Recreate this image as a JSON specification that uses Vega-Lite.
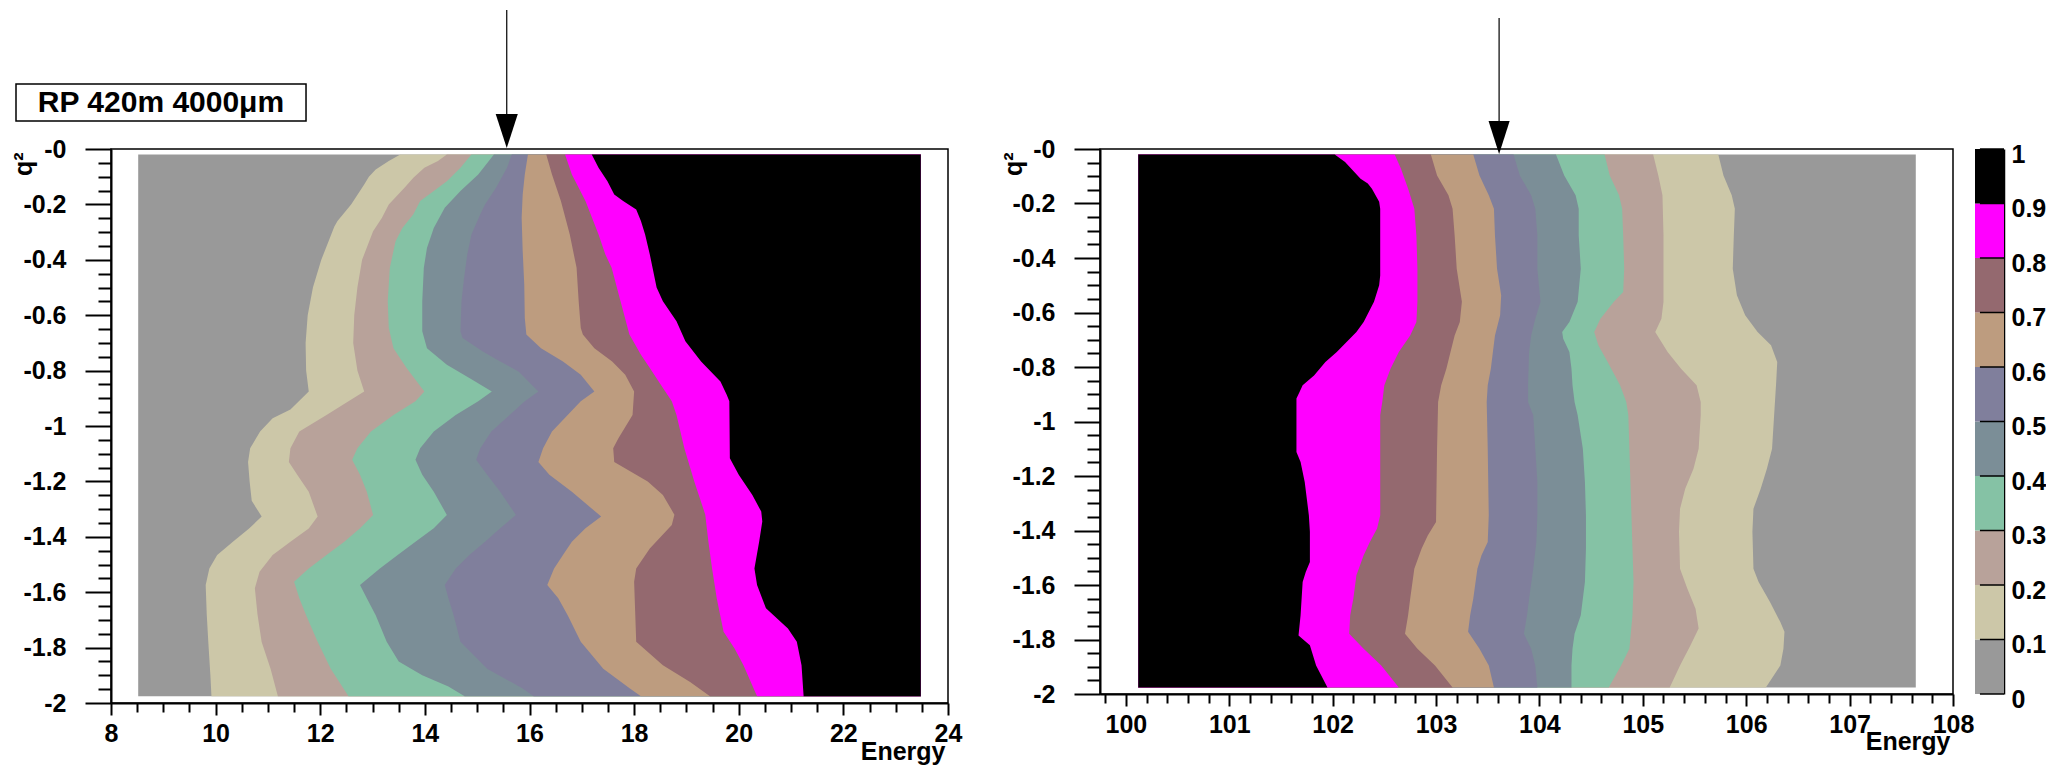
{
"$schema": "https://vega.github.io/schema/vega-lite/v6.json",
"background": "white",
"padding": {"left": 10, "top": 8, "right": 0, "bottom": 0},
"autosize": {"type": "pad"},
"config": {
 "font": "Liberation Sans",
 "view": {"stroke": "black", "strokeWidth": 1.5},
 "axis": {"labelFont": "Liberation Sans", "labelFontWeight": "bold", "labelFontSize": 25, "labelColor": "black", "titleFont": "Liberation Sans", "titleFontWeight": "bold", "titleFontSize": 25, "titleColor": "black", "domainColor": "black", "tickColor": "black", "grid": false, "labelFlush": false, "labelOverlap": false},
 "area": {"opacity": 1},
 "rect": {"opacity": 1}
},
"datasets": {
"L": [
{"c":0,"q":-0.02,"e":8.52},{"c":0,"q":-1.976,"e":8.52},
{"c":0.1,"q":-0.02,"e":13.53},{"c":0.1,"q":-0.043,"e":13.31},{"c":0.1,"q":-0.074,"e":13.06},{"c":0.1,"q":-0.1,"e":12.93},{"c":0.1,"q":-0.128,"e":12.84},{"c":0.1,"q":-0.2,"e":12.59},{"c":0.1,"q":-0.26,"e":12.33},{"c":0.1,"q":-0.28,"e":12.27},{"c":0.1,"q":-0.4,"e":12.02},{"c":0.1,"q":-0.5,"e":11.86},{"c":0.1,"q":-0.6,"e":11.76},{"c":0.1,"q":-0.7,"e":11.72},{"c":0.1,"q":-0.8,"e":11.73},{"c":0.1,"q":-0.875,"e":11.78},{"c":0.1,"q":-0.94,"e":11.43},{"c":0.1,"q":-0.972,"e":11.09},{"c":0.1,"q":-1.02,"e":10.85},{"c":0.1,"q":-1.08,"e":10.66},{"c":0.1,"q":-1.13,"e":10.62},{"c":0.1,"q":-1.2,"e":10.65},{"c":0.1,"q":-1.27,"e":10.69},{"c":0.1,"q":-1.327,"e":10.88},{"c":0.1,"q":-1.37,"e":10.64},{"c":0.1,"q":-1.418,"e":10.33},{"c":0.1,"q":-1.466,"e":10.03},{"c":0.1,"q":-1.514,"e":9.88},{"c":0.1,"q":-1.574,"e":9.81},{"c":0.1,"q":-1.68,"e":9.83},{"c":0.1,"q":-1.78,"e":9.86},{"c":0.1,"q":-1.9,"e":9.9},{"c":0.1,"q":-1.976,"e":9.92},
{"c":0.2,"q":-0.02,"e":14.42},{"c":0.2,"q":-0.043,"e":14.25},{"c":0.2,"q":-0.068,"e":13.99},{"c":0.2,"q":-0.104,"e":13.78},{"c":0.2,"q":-0.14,"e":13.61},{"c":0.2,"q":-0.2,"e":13.31},{"c":0.2,"q":-0.248,"e":13.18},{"c":0.2,"q":-0.297,"e":13.01},{"c":0.2,"q":-0.4,"e":12.8},{"c":0.2,"q":-0.5,"e":12.71},{"c":0.2,"q":-0.6,"e":12.65},{"c":0.2,"q":-0.7,"e":12.63},{"c":0.2,"q":-0.8,"e":12.71},{"c":0.2,"q":-0.875,"e":12.84},{"c":0.2,"q":-0.911,"e":12.54},{"c":0.2,"q":-0.96,"e":12.12},{"c":0.2,"q":-1.02,"e":11.6},{"c":0.2,"q":-1.08,"e":11.43},{"c":0.2,"q":-1.13,"e":11.4},{"c":0.2,"q":-1.176,"e":11.56},{"c":0.2,"q":-1.237,"e":11.78},{"c":0.2,"q":-1.327,"e":11.95},{"c":0.2,"q":-1.37,"e":11.78},{"c":0.2,"q":-1.418,"e":11.43},{"c":0.2,"q":-1.466,"e":11.09},{"c":0.2,"q":-1.526,"e":10.84},{"c":0.2,"q":-1.586,"e":10.75},{"c":0.2,"q":-1.68,"e":10.8},{"c":0.2,"q":-1.78,"e":10.88},{"c":0.2,"q":-1.876,"e":11.05},{"c":0.2,"q":-1.976,"e":11.19},
{"c":0.3,"q":-0.02,"e":14.89},{"c":0.3,"q":-0.068,"e":14.68},{"c":0.3,"q":-0.116,"e":14.42},{"c":0.3,"q":-0.152,"e":14.17},{"c":0.3,"q":-0.188,"e":13.91},{"c":0.3,"q":-0.236,"e":13.78},{"c":0.3,"q":-0.285,"e":13.57},{"c":0.3,"q":-0.333,"e":13.44},{"c":0.3,"q":-0.429,"e":13.33},{"c":0.3,"q":-0.55,"e":13.29},{"c":0.3,"q":-0.646,"e":13.31},{"c":0.3,"q":-0.719,"e":13.4},{"c":0.3,"q":-0.791,"e":13.65},{"c":0.3,"q":-0.875,"e":13.99},{"c":0.3,"q":-0.911,"e":13.82},{"c":0.3,"q":-0.96,"e":13.4},{"c":0.3,"q":-1.02,"e":12.97},{"c":0.3,"q":-1.08,"e":12.71},{"c":0.3,"q":-1.122,"e":12.61},{"c":0.3,"q":-1.176,"e":12.76},{"c":0.3,"q":-1.237,"e":12.89},{"c":0.3,"q":-1.321,"e":13.01},{"c":0.3,"q":-1.369,"e":12.76},{"c":0.3,"q":-1.418,"e":12.46},{"c":0.3,"q":-1.466,"e":12.12},{"c":0.3,"q":-1.514,"e":11.78},{"c":0.3,"q":-1.562,"e":11.5},{"c":0.3,"q":-1.622,"e":11.6},{"c":0.3,"q":-1.683,"e":11.73},{"c":0.3,"q":-1.779,"e":11.95},{"c":0.3,"q":-1.876,"e":12.2},{"c":0.3,"q":-1.976,"e":12.54},
{"c":0.4,"q":-0.02,"e":15.32},{"c":0.4,"q":-0.092,"e":15.02},{"c":0.4,"q":-0.152,"e":14.68},{"c":0.4,"q":-0.212,"e":14.38},{"c":0.4,"q":-0.285,"e":14.17},{"c":0.4,"q":-0.357,"e":14.04},{"c":0.4,"q":-0.429,"e":13.98},{"c":0.4,"q":-0.55,"e":13.95},{"c":0.4,"q":-0.658,"e":13.95},{"c":0.4,"q":-0.719,"e":14.04},{"c":0.4,"q":-0.779,"e":14.42},{"c":0.4,"q":-0.827,"e":14.85},{"c":0.4,"q":-0.875,"e":15.28},{"c":0.4,"q":-0.911,"e":15.02},{"c":0.4,"q":-0.96,"e":14.59},{"c":0.4,"q":-1.02,"e":14.17},{"c":0.4,"q":-1.08,"e":13.91},{"c":0.4,"q":-1.122,"e":13.82},{"c":0.4,"q":-1.176,"e":13.95},{"c":0.4,"q":-1.237,"e":14.17},{"c":0.4,"q":-1.321,"e":14.42},{"c":0.4,"q":-1.369,"e":14.17},{"c":0.4,"q":-1.418,"e":13.82},{"c":0.4,"q":-1.466,"e":13.48},{"c":0.4,"q":-1.514,"e":13.14},{"c":0.4,"q":-1.574,"e":12.76},{"c":0.4,"q":-1.622,"e":12.89},{"c":0.4,"q":-1.683,"e":13.06},{"c":0.4,"q":-1.779,"e":13.27},{"c":0.4,"q":-1.85,"e":13.5},{"c":0.4,"q":-1.9,"e":13.95},{"c":0.4,"q":-1.94,"e":14.45},{"c":0.4,"q":-1.976,"e":14.76},
{"c":0.5,"q":-0.02,"e":15.66},{"c":0.5,"q":-0.068,"e":15.57},{"c":0.5,"q":-0.14,"e":15.36},{"c":0.5,"q":-0.2,"e":15.15},{"c":0.5,"q":-0.236,"e":15.06},{"c":0.5,"q":-0.309,"e":14.89},{"c":0.5,"q":-0.381,"e":14.81},{"c":0.5,"q":-0.465,"e":14.75},{"c":0.5,"q":-0.55,"e":14.7},{"c":0.5,"q":-0.658,"e":14.68},{"c":0.5,"q":-0.682,"e":14.72},{"c":0.5,"q":-0.73,"e":15.1},{"c":0.5,"q":-0.767,"e":15.44},{"c":0.5,"q":-0.803,"e":15.79},{"c":0.5,"q":-0.875,"e":16.17},{"c":0.5,"q":-0.911,"e":15.91},{"c":0.5,"q":-0.96,"e":15.62},{"c":0.5,"q":-1.02,"e":15.27},{"c":0.5,"q":-1.08,"e":15.06},{"c":0.5,"q":-1.122,"e":14.98},{"c":0.5,"q":-1.176,"e":15.19},{"c":0.5,"q":-1.237,"e":15.44},{"c":0.5,"q":-1.321,"e":15.74},{"c":0.5,"q":-1.369,"e":15.44},{"c":0.5,"q":-1.418,"e":15.15},{"c":0.5,"q":-1.466,"e":14.85},{"c":0.5,"q":-1.514,"e":14.59},{"c":0.5,"q":-1.574,"e":14.38},{"c":0.5,"q":-1.622,"e":14.45},{"c":0.5,"q":-1.683,"e":14.55},{"c":0.5,"q":-1.779,"e":14.68},{"c":0.5,"q":-1.876,"e":15.19},{"c":0.5,"q":-1.948,"e":15.87},{"c":0.5,"q":-1.976,"e":16.08},
{"c":0.6,"q":-0.02,"e":15.97},{"c":0.6,"q":-0.092,"e":15.91},{"c":0.6,"q":-0.164,"e":15.87},{"c":0.6,"q":-0.248,"e":15.85},{"c":0.6,"q":-0.369,"e":15.87},{"c":0.6,"q":-0.49,"e":15.9},{"c":0.6,"q":-0.61,"e":15.91},{"c":0.6,"q":-0.67,"e":15.94},{"c":0.6,"q":-0.719,"e":16.22},{"c":0.6,"q":-0.767,"e":16.64},{"c":0.6,"q":-0.815,"e":16.98},{"c":0.6,"q":-0.875,"e":17.24},{"c":0.6,"q":-0.911,"e":16.98},{"c":0.6,"q":-0.96,"e":16.73},{"c":0.6,"q":-1.02,"e":16.43},{"c":0.6,"q":-1.08,"e":16.26},{"c":0.6,"q":-1.13,"e":16.17},{"c":0.6,"q":-1.176,"e":16.38},{"c":0.6,"q":-1.237,"e":16.81},{"c":0.6,"q":-1.327,"e":17.37},{"c":0.6,"q":-1.369,"e":17.07},{"c":0.6,"q":-1.418,"e":16.81},{"c":0.6,"q":-1.466,"e":16.64},{"c":0.6,"q":-1.514,"e":16.47},{"c":0.6,"q":-1.574,"e":16.34},{"c":0.6,"q":-1.622,"e":16.55},{"c":0.6,"q":-1.683,"e":16.73},{"c":0.6,"q":-1.779,"e":16.98},{"c":0.6,"q":-1.876,"e":17.41},{"c":0.6,"q":-1.948,"e":17.92},{"c":0.6,"q":-1.976,"e":18.13},
{"c":0.7,"q":-0.02,"e":16.32},{"c":0.7,"q":-0.092,"e":16.43},{"c":0.7,"q":-0.188,"e":16.6},{"c":0.7,"q":-0.309,"e":16.77},{"c":0.7,"q":-0.429,"e":16.9},{"c":0.7,"q":-0.55,"e":16.94},{"c":0.7,"q":-0.646,"e":16.98},{"c":0.7,"q":-0.67,"e":17.02},{"c":0.7,"q":-0.719,"e":17.24},{"c":0.7,"q":-0.767,"e":17.58},{"c":0.7,"q":-0.815,"e":17.83},{"c":0.7,"q":-0.875,"e":18.0},{"c":0.7,"q":-0.96,"e":17.97},{"c":0.7,"q":-1.044,"e":17.7},{"c":0.7,"q":-1.08,"e":17.6},{"c":0.7,"q":-1.13,"e":17.62},{"c":0.7,"q":-1.2,"e":18.26},{"c":0.7,"q":-1.249,"e":18.55},{"c":0.7,"q":-1.32,"e":18.77},{"c":0.7,"q":-1.357,"e":18.72},{"c":0.7,"q":-1.442,"e":18.3},{"c":0.7,"q":-1.514,"e":18.04},{"c":0.7,"q":-1.562,"e":18.0},{"c":0.7,"q":-1.779,"e":18.04},{"c":0.7,"q":-1.864,"e":18.55},{"c":0.7,"q":-1.924,"e":19.07},{"c":0.7,"q":-1.976,"e":19.45},
{"c":0.8,"q":-0.02,"e":16.68},{"c":0.8,"q":-0.092,"e":16.81},{"c":0.8,"q":-0.188,"e":17.07},{"c":0.8,"q":-0.309,"e":17.32},{"c":0.8,"q":-0.381,"e":17.45},{"c":0.8,"q":-0.429,"e":17.57},{"c":0.8,"q":-0.55,"e":17.74},{"c":0.8,"q":-0.67,"e":17.91},{"c":0.8,"q":-0.743,"e":18.13},{"c":0.8,"q":-0.791,"e":18.3},{"c":0.8,"q":-0.851,"e":18.51},{"c":0.8,"q":-0.911,"e":18.72},{"c":0.8,"q":-0.96,"e":18.81},{"c":0.8,"q":-1.08,"e":18.96},{"c":0.8,"q":-1.2,"e":19.15},{"c":0.8,"q":-1.32,"e":19.36},{"c":0.8,"q":-1.418,"e":19.42},{"c":0.8,"q":-1.514,"e":19.49},{"c":0.8,"q":-1.623,"e":19.58},{"c":0.8,"q":-1.743,"e":19.71},{"c":0.8,"q":-1.803,"e":19.92},{"c":0.8,"q":-1.864,"e":20.09},{"c":0.8,"q":-1.976,"e":20.35},
{"c":0.9,"q":-0.02,"e":17.19},{"c":0.9,"q":-0.068,"e":17.32},{"c":0.9,"q":-0.116,"e":17.49},{"c":0.9,"q":-0.164,"e":17.62},{"c":0.9,"q":-0.188,"e":17.79},{"c":0.9,"q":-0.218,"e":18.04},{"c":0.9,"q":-0.26,"e":18.13},{"c":0.9,"q":-0.309,"e":18.21},{"c":0.9,"q":-0.381,"e":18.3},{"c":0.9,"q":-0.5,"e":18.43},{"c":0.9,"q":-0.55,"e":18.55},{"c":0.9,"q":-0.622,"e":18.81},{"c":0.9,"q":-0.694,"e":18.98},{"c":0.9,"q":-0.767,"e":19.28},{"c":0.9,"q":-0.839,"e":19.65},{"c":0.9,"q":-0.887,"e":19.77},{"c":0.9,"q":-0.911,"e":19.82},{"c":0.9,"q":-1.116,"e":19.83},{"c":0.9,"q":-1.176,"e":20.0},{"c":0.9,"q":-1.249,"e":20.26},{"c":0.9,"q":-1.309,"e":20.43},{"c":0.9,"q":-1.345,"e":20.45},{"c":0.9,"q":-1.418,"e":20.39},{"c":0.9,"q":-1.514,"e":20.3},{"c":0.9,"q":-1.574,"e":20.35},{"c":0.9,"q":-1.658,"e":20.52},{"c":0.9,"q":-1.731,"e":20.94},{"c":0.9,"q":-1.779,"e":21.11},{"c":0.9,"q":-1.864,"e":21.2},{"c":0.9,"q":-1.976,"e":21.24}
],
"R": [
{"c":0,"q":-0.02,"e":107.64},{"c":0,"q":-1.976,"e":107.64},
{"c":0.1,"q":-0.02,"e":105.73},{"c":0.1,"q":-0.097,"e":105.78},{"c":0.1,"q":-0.17,"e":105.86},{"c":0.1,"q":-0.219,"e":105.89},{"c":0.1,"q":-0.317,"e":105.88},{"c":0.1,"q":-0.439,"e":105.87},{"c":0.1,"q":-0.537,"e":105.91},{"c":0.1,"q":-0.61,"e":105.99},{"c":0.1,"q":-0.672,"e":106.11},{"c":0.1,"q":-0.72,"e":106.24},{"c":0.1,"q":-0.782,"e":106.3},{"c":0.1,"q":-0.855,"e":106.29},{"c":0.1,"q":-0.977,"e":106.27},{"c":0.1,"q":-1.1,"e":106.25},{"c":0.1,"q":-1.173,"e":106.2},{"c":0.1,"q":-1.247,"e":106.14},{"c":0.1,"q":-1.32,"e":106.07},{"c":0.1,"q":-1.405,"e":106.06},{"c":0.1,"q":-1.54,"e":106.07},{"c":0.1,"q":-1.589,"e":106.12},{"c":0.1,"q":-1.662,"e":106.23},{"c":0.1,"q":-1.736,"e":106.33},{"c":0.1,"q":-1.772,"e":106.37},{"c":0.1,"q":-1.834,"e":106.36},{"c":0.1,"q":-1.895,"e":106.33},{"c":0.1,"q":-1.976,"e":106.19},
{"c":0.2,"q":-0.02,"e":105.1},{"c":0.2,"q":-0.097,"e":105.15},{"c":0.2,"q":-0.17,"e":105.19},{"c":0.2,"q":-0.317,"e":105.2},{"c":0.2,"q":-0.561,"e":105.2},{"c":0.2,"q":-0.623,"e":105.18},{"c":0.2,"q":-0.672,"e":105.12},{"c":0.2,"q":-0.745,"e":105.24},{"c":0.2,"q":-0.806,"e":105.37},{"c":0.2,"q":-0.867,"e":105.52},{"c":0.2,"q":-0.928,"e":105.56},{"c":0.2,"q":-0.977,"e":105.56},{"c":0.2,"q":-1.1,"e":105.54},{"c":0.2,"q":-1.173,"e":105.49},{"c":0.2,"q":-1.247,"e":105.41},{"c":0.2,"q":-1.32,"e":105.36},{"c":0.2,"q":-1.405,"e":105.35},{"c":0.2,"q":-1.54,"e":105.36},{"c":0.2,"q":-1.613,"e":105.43},{"c":0.2,"q":-1.687,"e":105.51},{"c":0.2,"q":-1.76,"e":105.54},{"c":0.2,"q":-1.822,"e":105.46},{"c":0.2,"q":-1.895,"e":105.36},{"c":0.2,"q":-1.976,"e":105.26},
{"c":0.3,"q":-0.02,"e":104.63},{"c":0.3,"q":-0.097,"e":104.68},{"c":0.3,"q":-0.17,"e":104.77},{"c":0.3,"q":-0.219,"e":104.8},{"c":0.3,"q":-0.317,"e":104.81},{"c":0.3,"q":-0.439,"e":104.82},{"c":0.3,"q":-0.525,"e":104.81},{"c":0.3,"q":-0.561,"e":104.72},{"c":0.3,"q":-0.623,"e":104.59},{"c":0.3,"q":-0.672,"e":104.53},{"c":0.3,"q":-0.72,"e":104.57},{"c":0.3,"q":-0.782,"e":104.66},{"c":0.3,"q":-0.867,"e":104.78},{"c":0.3,"q":-0.928,"e":104.84},{"c":0.3,"q":-0.977,"e":104.86},{"c":0.3,"q":-1.1,"e":104.87},{"c":0.3,"q":-1.222,"e":104.88},{"c":0.3,"q":-1.344,"e":104.89},{"c":0.3,"q":-1.467,"e":104.9},{"c":0.3,"q":-1.589,"e":104.91},{"c":0.3,"q":-1.711,"e":104.9},{"c":0.3,"q":-1.834,"e":104.87},{"c":0.3,"q":-1.895,"e":104.79},{"c":0.3,"q":-1.976,"e":104.67},
{"c":0.4,"q":-0.02,"e":104.16},{"c":0.4,"q":-0.097,"e":104.24},{"c":0.4,"q":-0.17,"e":104.35},{"c":0.4,"q":-0.219,"e":104.38},{"c":0.4,"q":-0.317,"e":104.38},{"c":0.4,"q":-0.439,"e":104.4},{"c":0.4,"q":-0.561,"e":104.37},{"c":0.4,"q":-0.635,"e":104.29},{"c":0.4,"q":-0.672,"e":104.22},{"c":0.4,"q":-0.696,"e":104.23},{"c":0.4,"q":-0.745,"e":104.29},{"c":0.4,"q":-0.806,"e":104.31},{"c":0.4,"q":-0.867,"e":104.32},{"c":0.4,"q":-0.928,"e":104.34},{"c":0.4,"q":-0.977,"e":104.37},{"c":0.4,"q":-1.1,"e":104.42},{"c":0.4,"q":-1.222,"e":104.44},{"c":0.4,"q":-1.344,"e":104.45},{"c":0.4,"q":-1.467,"e":104.45},{"c":0.4,"q":-1.589,"e":104.44},{"c":0.4,"q":-1.711,"e":104.4},{"c":0.4,"q":-1.779,"e":104.34},{"c":0.4,"q":-1.834,"e":104.32},{"c":0.4,"q":-1.895,"e":104.31},{"c":0.4,"q":-1.976,"e":104.31},
{"c":0.5,"q":-0.02,"e":103.75},{"c":0.5,"q":-0.097,"e":103.81},{"c":0.5,"q":-0.17,"e":103.92},{"c":0.5,"q":-0.219,"e":103.96},{"c":0.5,"q":-0.317,"e":103.98},{"c":0.5,"q":-0.439,"e":103.98},{"c":0.5,"q":-0.561,"e":104.01},{"c":0.5,"q":-0.623,"e":103.96},{"c":0.5,"q":-0.684,"e":103.92},{"c":0.5,"q":-0.745,"e":103.9},{"c":0.5,"q":-0.867,"e":103.89},{"c":0.5,"q":-0.928,"e":103.89},{"c":0.5,"q":-0.977,"e":103.94},{"c":0.5,"q":-1.1,"e":103.96},{"c":0.5,"q":-1.222,"e":103.98},{"c":0.5,"q":-1.344,"e":103.98},{"c":0.5,"q":-1.442,"e":103.97},{"c":0.5,"q":-1.54,"e":103.94},{"c":0.5,"q":-1.65,"e":103.9},{"c":0.5,"q":-1.711,"e":103.88},{"c":0.5,"q":-1.779,"e":103.85},{"c":0.5,"q":-1.834,"e":103.92},{"c":0.5,"q":-1.895,"e":103.96},{"c":0.5,"q":-1.976,"e":103.98},
{"c":0.6,"q":-0.02,"e":103.36},{"c":0.6,"q":-0.097,"e":103.42},{"c":0.6,"q":-0.17,"e":103.51},{"c":0.6,"q":-0.219,"e":103.56},{"c":0.6,"q":-0.317,"e":103.57},{"c":0.6,"q":-0.439,"e":103.59},{"c":0.6,"q":-0.537,"e":103.63},{"c":0.6,"q":-0.61,"e":103.62},{"c":0.6,"q":-0.684,"e":103.57},{"c":0.6,"q":-0.745,"e":103.55},{"c":0.6,"q":-0.806,"e":103.53},{"c":0.6,"q":-0.867,"e":103.5},{"c":0.6,"q":-0.928,"e":103.49},{"c":0.6,"q":-1.1,"e":103.5},{"c":0.6,"q":-1.344,"e":103.51},{"c":0.6,"q":-1.442,"e":103.5},{"c":0.6,"q":-1.491,"e":103.44},{"c":0.6,"q":-1.54,"e":103.4},{"c":0.6,"q":-1.65,"e":103.36},{"c":0.6,"q":-1.711,"e":103.33},{"c":0.6,"q":-1.772,"e":103.31},{"c":0.6,"q":-1.834,"e":103.42},{"c":0.6,"q":-1.895,"e":103.51},{"c":0.6,"q":-1.976,"e":103.56},
{"c":0.7,"q":-0.02,"e":102.95},{"c":0.7,"q":-0.097,"e":103.01},{"c":0.7,"q":-0.17,"e":103.12},{"c":0.7,"q":-0.219,"e":103.16},{"c":0.7,"q":-0.317,"e":103.18},{"c":0.7,"q":-0.439,"e":103.2},{"c":0.7,"q":-0.561,"e":103.25},{"c":0.7,"q":-0.635,"e":103.23},{"c":0.7,"q":-0.684,"e":103.18},{"c":0.7,"q":-0.745,"e":103.14},{"c":0.7,"q":-0.806,"e":103.1},{"c":0.7,"q":-0.867,"e":103.05},{"c":0.7,"q":-0.928,"e":103.02},{"c":0.7,"q":-1.1,"e":103.01},{"c":0.7,"q":-1.369,"e":103.0},{"c":0.7,"q":-1.418,"e":102.92},{"c":0.7,"q":-1.467,"e":102.86},{"c":0.7,"q":-1.54,"e":102.79},{"c":0.7,"q":-1.65,"e":102.75},{"c":0.7,"q":-1.711,"e":102.73},{"c":0.7,"q":-1.779,"e":102.7},{"c":0.7,"q":-1.834,"e":102.82},{"c":0.7,"q":-1.895,"e":102.99},{"c":0.7,"q":-1.976,"e":103.16},
{"c":0.8,"q":-0.02,"e":102.6},{"c":0.8,"q":-0.072,"e":102.66},{"c":0.8,"q":-0.146,"e":102.73},{"c":0.8,"q":-0.219,"e":102.79},{"c":0.8,"q":-0.317,"e":102.81},{"c":0.8,"q":-0.439,"e":102.82},{"c":0.8,"q":-0.561,"e":102.82},{"c":0.8,"q":-0.635,"e":102.81},{"c":0.8,"q":-0.684,"e":102.75},{"c":0.8,"q":-0.745,"e":102.64},{"c":0.8,"q":-0.806,"e":102.56},{"c":0.8,"q":-0.867,"e":102.5},{"c":0.8,"q":-0.928,"e":102.48},{"c":0.8,"q":-0.977,"e":102.46},{"c":0.8,"q":-1.344,"e":102.46},{"c":0.8,"q":-1.393,"e":102.43},{"c":0.8,"q":-1.442,"e":102.36},{"c":0.8,"q":-1.491,"e":102.3},{"c":0.8,"q":-1.564,"e":102.23},{"c":0.8,"q":-1.65,"e":102.2},{"c":0.8,"q":-1.711,"e":102.17},{"c":0.8,"q":-1.779,"e":102.16},{"c":0.8,"q":-1.834,"e":102.3},{"c":0.8,"q":-1.895,"e":102.47},{"c":0.8,"q":-1.976,"e":102.64},
{"c":0.9,"q":-0.02,"e":102.02},{"c":0.9,"q":-0.048,"e":102.12},{"c":0.9,"q":-0.109,"e":102.27},{"c":0.9,"q":-0.127,"e":102.34},{"c":0.9,"q":-0.146,"e":102.38},{"c":0.9,"q":-0.194,"e":102.45},{"c":0.9,"q":-0.219,"e":102.46},{"c":0.9,"q":-0.464,"e":102.46},{"c":0.9,"q":-0.5,"e":102.45},{"c":0.9,"q":-0.561,"e":102.4},{"c":0.9,"q":-0.635,"e":102.3},{"c":0.9,"q":-0.672,"e":102.23},{"c":0.9,"q":-0.745,"e":102.04},{"c":0.9,"q":-0.782,"e":101.93},{"c":0.9,"q":-0.831,"e":101.82},{"c":0.9,"q":-0.867,"e":101.71},{"c":0.9,"q":-0.892,"e":101.68},{"c":0.9,"q":-0.916,"e":101.65},{"c":0.9,"q":-1.112,"e":101.65},{"c":0.9,"q":-1.149,"e":101.69},{"c":0.9,"q":-1.222,"e":101.73},{"c":0.9,"q":-1.344,"e":101.77},{"c":0.9,"q":-1.405,"e":101.78},{"c":0.9,"q":-1.516,"e":101.78},{"c":0.9,"q":-1.552,"e":101.74},{"c":0.9,"q":-1.589,"e":101.71},{"c":0.9,"q":-1.711,"e":101.69},{"c":0.9,"q":-1.785,"e":101.67},{"c":0.9,"q":-1.821,"e":101.78},{"c":0.9,"q":-1.895,"e":101.84},{"c":0.9,"q":-1.976,"e":101.95}
],
"CB": [
{"c":0,"lo":0,"hi":0.1},{"c":0.1,"lo":0.1,"hi":0.2},{"c":0.2,"lo":0.2,"hi":0.3},{"c":0.3,"lo":0.3,"hi":0.4},{"c":0.4,"lo":0.4,"hi":0.5},{"c":0.5,"lo":0.5,"hi":0.6},{"c":0.6,"lo":0.6,"hi":0.7},{"c":0.7,"lo":0.7,"hi":0.8},{"c":0.8,"lo":0.8,"hi":0.9},{"c":0.9,"lo":0.9,"hi":1}
],
"CT": [{"t":0},{"t":0.1},{"t":0.2},{"t":0.3},{"t":0.4},{"t":0.5},{"t":0.6},{"t":0.7},{"t":0.8},{"t":0.9},{"t":1}]
},
"spacing": 152,
"bounds": "flush",
"resolve": {"scale": {"x": "independent", "y": "independent"}},
"hconcat": [
{
 "width": 837, "height": 554,
 "resolve": {"axis": {"x": "independent", "y": "independent"}},
 "layer": [
  {
   "data": {"name": "L"},
   "encoding": {
    "y": {"field": "q", "type": "quantitative", "scale": {"domain": [-2, 0], "nice": false, "zero": false},
     "axis": {"orient": "left", "values": [-2,-1.8,-1.6,-1.4,-1.2,-1,-0.8,-0.6,-0.4,-0.2,0], "tickSize": 26, "tickWidth": 2, "domainWidth": 2, "labelPadding": 19, "labelExpr": "datum.value === 0 ? '-0' : '' + datum.value", "title": "q²", "titleAngle": 270, "titleAlign": "right", "titleBaseline": "alphabetic", "titleX": -80, "titleY": 3}},
    "x": {"field": "e", "type": "quantitative", "scale": {"domain": [8, 24], "nice": false, "zero": false},
     "axis": {"orient": "bottom", "values": [8,10,12,14,16,18,20,22,24], "tickSize": 12, "tickWidth": 2, "domainWidth": 2, "labelPadding": 6, "labelExpr": "'' + datum.value", "title": "Energy", "titleAlign": "right", "titleBaseline": "alphabetic", "titleX": 834, "titleY": 56}},
    "x2": {"datum": 23.48},
    "color": {"field": "c", "type": "ordinal", "scale": {"domain": [0,0.1,0.2,0.3,0.4,0.5,0.6,0.7,0.8,0.9], "range": ["#999999","#CCC7A8","#B8A29A","#85C2A5","#7B8E97","#807F9C","#BD9C7F","#94696F","#FF00FF","#000000"]}, "legend": null}
   },
   "layer": [
    {"transform": [{"filter": "datum.c == 0"}], "mark": {"type": "area", "orient": "horizontal"}},
    {"transform": [{"filter": "datum.c == 0.1"}], "mark": {"type": "area", "orient": "horizontal"}},
    {"transform": [{"filter": "datum.c == 0.2"}], "mark": {"type": "area", "orient": "horizontal"}},
    {"transform": [{"filter": "datum.c == 0.3"}], "mark": {"type": "area", "orient": "horizontal"}},
    {"transform": [{"filter": "datum.c == 0.4"}], "mark": {"type": "area", "orient": "horizontal"}},
    {"transform": [{"filter": "datum.c == 0.5"}], "mark": {"type": "area", "orient": "horizontal"}},
    {"transform": [{"filter": "datum.c == 0.6"}], "mark": {"type": "area", "orient": "horizontal"}},
    {"transform": [{"filter": "datum.c == 0.7"}], "mark": {"type": "area", "orient": "horizontal"}},
    {"transform": [{"filter": "datum.c == 0.8"}], "mark": {"type": "area", "orient": "horizontal"}},
    {"transform": [{"filter": "datum.c == 0.9"}], "mark": {"type": "area", "orient": "horizontal"}}
   ]
  },
  {
   "data": {"values": [{"ax": 15.565, "top": 0.502, "bot": 0.115}]},
   "mark": {"type": "rule", "color": "black", "strokeWidth": 1.2},
   "encoding": {
    "x": {"field": "ax", "type": "quantitative", "scale": {"domain": [8, 24], "nice": false, "zero": false},
     "axis": {"orient": "bottom", "values": [8.5,9,9.5,10.5,11,11.5,12.5,13,13.5,14.5,15,15.5,16.5,17,17.5,18.5,19,19.5,20.5,21,21.5,22.5,23,23.5], "tickSize": 9, "tickWidth": 2, "labels": false, "domain": false, "title": null}},
    "y": {"field": "top", "type": "quantitative", "scale": {"domain": [-2, 0], "nice": false, "zero": false},
     "axis": {"orient": "left", "values": [-1.95,-1.9,-1.85,-1.75,-1.7,-1.65,-1.55,-1.5,-1.45,-1.35,-1.3,-1.25,-1.15,-1.1,-1.05,-0.95,-0.9,-0.85,-0.75,-0.7,-0.65,-0.55,-0.5,-0.45,-0.35,-0.3,-0.25,-0.15,-0.1,-0.05], "tickSize": 13, "tickWidth": 2, "labels": false, "domain": false, "title": null}},
    "y2": {"field": "bot"}
   }
  },
  {
   "data": {"values": [{"ax": 15.565, "head": 0.065}]},
   "mark": {"type": "point", "shape": "M -0.65 -1 L 0.65 -1 L 0 1 Z", "size": 1156, "filled": true, "color": "black", "opacity": 1, "strokeWidth": 0},
   "encoding": {
    "x": {"field": "ax", "type": "quantitative", "scale": {"domain": [8, 24], "nice": false, "zero": false}, "axis": null},
    "y": {"field": "head", "type": "quantitative", "scale": {"domain": [-2, 0], "nice": false, "zero": false}, "axis": null}
   }
  },
  {
   "data": {"values": [{"x1": 6.184, "x2": 11.728, "y1": 0.2347, "y2": 0.1011}]},
   "mark": {"type": "rect", "fill": "white", "stroke": "black", "strokeWidth": 1.5},
   "encoding": {
    "x": {"field": "x1", "type": "quantitative", "scale": {"domain": [8, 24], "nice": false, "zero": false}, "axis": null},
    "x2": {"field": "x2"},
    "y": {"field": "y1", "type": "quantitative", "scale": {"domain": [-2, 0], "nice": false, "zero": false}, "axis": null},
    "y2": {"field": "y2"}
   }
  },
  {
   "data": {"values": [{"tx": 8.956, "ty": 0.166, "label": "RP 420m 4000μm"}]},
   "mark": {"type": "text", "font": "Liberation Sans", "fontWeight": "bold", "fontSize": 30, "align": "center", "baseline": "middle", "color": "black"},
   "encoding": {
    "x": {"field": "tx", "type": "quantitative", "scale": {"domain": [8, 24], "nice": false, "zero": false}, "axis": null},
    "y": {"field": "ty", "type": "quantitative", "scale": {"domain": [-2, 0], "nice": false, "zero": false}, "axis": null},
    "text": {"field": "label"}
   }
  }
 ]
},
{
 "spacing": 22,
 "bounds": "flush",
 "resolve": {"scale": {"x": "independent", "y": "independent"}},
 "hconcat": [
 {
  "width": 853, "height": 545,
  "resolve": {"axis": {"x": "independent", "y": "independent"}},
  "layer": [
   {
    "data": {"name": "R"},
    "encoding": {
     "y": {"field": "q", "type": "quantitative", "scale": {"domain": [-2, 0], "nice": false, "zero": false},
      "axis": {"orient": "left", "values": [-2,-1.8,-1.6,-1.4,-1.2,-1,-0.8,-0.6,-0.4,-0.2,0], "tickSize": 26, "tickWidth": 2, "domainWidth": 2, "labelPadding": 19, "labelExpr": "datum.value === 0 ? '-0' : '' + datum.value", "title": "q²", "titleAngle": 270, "titleAlign": "right", "titleBaseline": "alphabetic", "titleX": -79, "titleY": 3}},
     "x": {"field": "e", "type": "quantitative", "scale": {"domain": [99.75, 108], "nice": false, "zero": false},
      "axis": {"orient": "bottom", "values": [100,101,102,103,104,105,106,107,108], "tickSize": 12, "tickWidth": 2, "domainWidth": 2, "labelPadding": 6, "labelExpr": "'' + datum.value", "title": "Energy", "titleAlign": "right", "titleBaseline": "alphabetic", "titleX": 850, "titleY": 55}},
     "x2": {"datum": 100.12},
     "color": {"field": "c", "type": "ordinal", "scale": {"domain": [0,0.1,0.2,0.3,0.4,0.5,0.6,0.7,0.8,0.9], "range": ["#999999","#CCC7A8","#B8A29A","#85C2A5","#7B8E97","#807F9C","#BD9C7F","#94696F","#FF00FF","#000000"]}, "legend": null}
    },
    "layer": [
     {"transform": [{"filter": "datum.c == 0"}], "mark": {"type": "area", "orient": "horizontal"}},
     {"transform": [{"filter": "datum.c == 0.1"}], "mark": {"type": "area", "orient": "horizontal"}},
     {"transform": [{"filter": "datum.c == 0.2"}], "mark": {"type": "area", "orient": "horizontal"}},
     {"transform": [{"filter": "datum.c == 0.3"}], "mark": {"type": "area", "orient": "horizontal"}},
     {"transform": [{"filter": "datum.c == 0.4"}], "mark": {"type": "area", "orient": "horizontal"}},
     {"transform": [{"filter": "datum.c == 0.5"}], "mark": {"type": "area", "orient": "horizontal"}},
     {"transform": [{"filter": "datum.c == 0.6"}], "mark": {"type": "area", "orient": "horizontal"}},
     {"transform": [{"filter": "datum.c == 0.7"}], "mark": {"type": "area", "orient": "horizontal"}},
     {"transform": [{"filter": "datum.c == 0.8"}], "mark": {"type": "area", "orient": "horizontal"}},
     {"transform": [{"filter": "datum.c == 0.9"}], "mark": {"type": "area", "orient": "horizontal"}}
    ]
   },
   {
    "data": {"values": [{"ax": 103.61, "top": 0.481, "bot": 0.103}]},
    "mark": {"type": "rule", "color": "black", "strokeWidth": 1.2},
    "encoding": {
     "x": {"field": "ax", "type": "quantitative", "scale": {"domain": [99.75, 108], "nice": false, "zero": false},
      "axis": {"orient": "bottom", "values": [99.8,100.2,100.4,100.6,100.8,101.2,101.4,101.6,101.8,102.2,102.4,102.6,102.8,103.2,103.4,103.6,103.8,104.2,104.4,104.6,104.8,105.2,105.4,105.6,105.8,106.2,106.4,106.6,106.8,107.2,107.4,107.6,107.8], "tickSize": 9, "tickWidth": 2, "labels": false, "domain": false, "title": null}},
     "y": {"field": "top", "type": "quantitative", "scale": {"domain": [-2, 0], "nice": false, "zero": false},
      "axis": {"orient": "left", "values": [-1.95,-1.9,-1.85,-1.75,-1.7,-1.65,-1.55,-1.5,-1.45,-1.35,-1.3,-1.25,-1.15,-1.1,-1.05,-0.95,-0.9,-0.85,-0.75,-0.7,-0.65,-0.55,-0.5,-0.45,-0.35,-0.3,-0.25,-0.15,-0.1,-0.05], "tickSize": 13, "tickWidth": 2, "labels": false, "domain": false, "title": null}},
     "y2": {"field": "bot"}
    }
   },
   {
    "data": {"values": [{"ax": 103.61, "head": 0.042}]},
    "mark": {"type": "point", "shape": "M -0.64 -1 L 0.64 -1 L 0 1 Z", "size": 1089, "filled": true, "color": "black", "opacity": 1, "strokeWidth": 0},
    "encoding": {
     "x": {"field": "ax", "type": "quantitative", "scale": {"domain": [99.75, 108], "nice": false, "zero": false}, "axis": null},
     "y": {"field": "head", "type": "quantitative", "scale": {"domain": [-2, 0], "nice": false, "zero": false}, "axis": null}
    }
   }
  ]
 },
 {
  "width": 29, "height": 545,
  "view": {"stroke": null},
  "resolve": {"axis": {"x": "independent", "y": "independent"}},
  "layer": [
   {
    "data": {"name": "CB"},
    "mark": {"type": "rect"},
    "encoding": {
     "x": {"datum": 0, "type": "quantitative", "scale": {"domain": [0, 1], "nice": false, "zero": false}, "axis": null},
     "x2": {"datum": 1},
     "y": {"field": "lo", "type": "quantitative", "scale": {"domain": [0, 1], "nice": false, "zero": false},
      "axis": {"orient": "right", "values": [0,0.1,0.2,0.3,0.4,0.5,0.6,0.7,0.8,0.9,1], "ticks": false, "domain": true, "domainWidth": 1.5, "labels": true, "labelPadding": 7, "labelOffset": 5, "labelAlign": "left", "labelExpr": "'' + datum.value", "title": null}},
     "y2": {"field": "hi"},
     "color": {"field": "c", "type": "ordinal", "scale": {"domain": [0,0.1,0.2,0.3,0.4,0.5,0.6,0.7,0.8,0.9], "range": ["#999999","#CCC7A8","#B8A29A","#85C2A5","#7B8E97","#807F9C","#BD9C7F","#94696F","#FF00FF","#000000"]}, "legend": null}
    }
   },
   {
    "data": {"name": "CT"},
    "mark": {"type": "rule", "color": "black", "strokeWidth": 1.5},
    "encoding": {
     "x": {"datum": 0.17, "type": "quantitative", "scale": {"domain": [0, 1], "nice": false, "zero": false}, "axis": null},
     "x2": {"datum": 1},
     "y": {"field": "t", "type": "quantitative", "scale": {"domain": [0, 1], "nice": false, "zero": false}, "axis": null}
    }
   }
  ]
 }
 ]
}
]
}
